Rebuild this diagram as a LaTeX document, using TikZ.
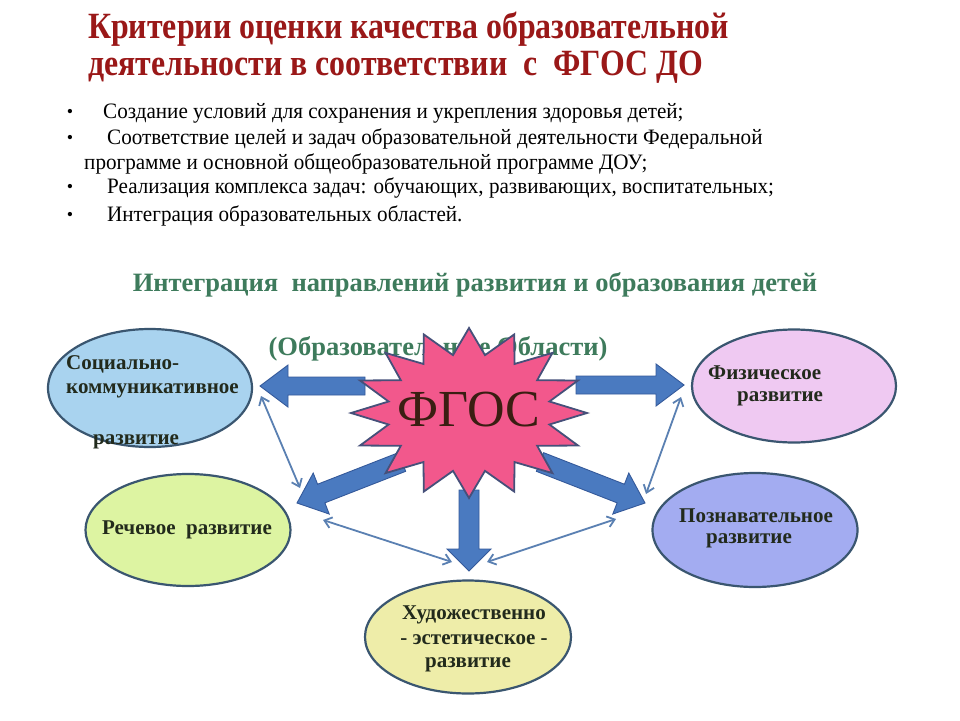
\documentclass[tikz,border=0pt]{standalone}
\usepackage{graphicx}
\usepackage{fontspec}
\setmainfont{Liberation Serif}
\usetikzlibrary{arrows.meta,calc,shapes.geometric}
\definecolor{titlered}{HTML}{9A1818}
\definecolor{subgreen}{HTML}{3E7B5C}
\definecolor{arrowblue}{HTML}{4A7AC0}
\definecolor{arrowedge}{HTML}{34599A}
\definecolor{thinblue}{HTML}{5A80B2}
\definecolor{starpink}{HTML}{F2588C}
\definecolor{staredge}{HTML}{46507A}
\definecolor{elledge}{HTML}{3A5670}
\definecolor{soccol}{HTML}{A9D3EF}
\definecolor{fizcol}{HTML}{EFC9F2}
\definecolor{reccol}{HTML}{DDF4A2}
\definecolor{pozcol}{HTML}{A3ACF1}
\definecolor{hudcol}{HTML}{EEEDA9}
\definecolor{ltext}{HTML}{222A1C}
\definecolor{fgoscol}{HTML}{3A1E12}
\newcommand{\blockarr}[5]{% start, tip, shaft half, head half, head length
  \path coordinate (ha) at ($(#2)!#5!(#1)$);
  \draw[blockarrow] ($(#1)!#3!90:(#2)$) -- ($(ha)!#3!-90:(#1)$) -- ($(ha)!#4!-90:(#1)$) -- (#2)
    -- ($(ha)!#4!90:(#1)$) -- ($(ha)!#3!90:(#1)$) -- ($(#1)!#3!-90:(#2)$) -- cycle;}
\newcommand{\nar}[2]{\scalebox{#1}[1]{#2}}
\begin{document}
\begin{tikzpicture}[x=1pt,y=-1pt,
  title/.style={font=\fontsize{37}{40}\selectfont\bfseries, text=titlered, inner sep=0, anchor=west},
  bul/.style={font=\fontsize{22}{24}\selectfont, text=black, inner sep=0, anchor=west},
  dot/.style={font=\fontsize{18}{20}\selectfont, inner sep=0},
  sub/.style={font=\fontsize{26.5}{30}\selectfont\bfseries, text=subgreen, inner sep=0},
  ell/.style={draw=elledge, line width=2.2pt, ellipse, inner sep=0},
  lab/.style={font=\fontsize{21}{24}\selectfont\bfseries, text=ltext, inner sep=0},
  blockarrow/.style={fill=arrowblue, draw=arrowedge, line width=0.9pt, line join=miter},
  thin/.style={draw=thinblue, line width=1.8pt, {Straight Barb[length=7pt,width=11pt]}-{Straight Barb[length=7pt,width=11pt]}}
]
\useasboundingbox[fill=white] (0,0) rectangle (960,720);
% title
\node[title] (t1) at (88,29) {\nar{0.86}{Критерии оценки качества образовательной}};
\node[title] (t2) at (88,67) {\nar{0.86}{деятельности в соответствии\ \ с\ \ ФГОС ДО}};
% bullets
\node[dot] (d1) at (70,113) {•};
\node[bul] (b1) at (103,113) {\nar{0.96}{Создание условий для сохранения и укрепления здоровья детей;}};
\node[dot] (d2) at (70,139) {•};
\node[bul] (b2) at (107,139) {\nar{0.96}{Соответствие целей и задач образовательной деятельности Федеральной}};
\node[bul] (b3) at (84,164) {\nar{0.96}{программе и основной общеобразовательной программе ДОУ;}};
\node[dot] (d3) at (70,188) {•};
\node[bul] (b4) at (107,188) {\nar{0.96}{Реализация комплекса задач: обучающих, развивающих, воспитательных;}};
\node[dot] (d4) at (70,216) {•};
\node[bul] (b5) at (107,216) {\nar{0.96}{Интеграция образовательных областей.}};
% subtitle
\node[sub] (s1) at (475,285) {Интеграция\ \ направлений развития и образования детей};
\node[sub] (s2) at (438,349) {(Образовательные Области)};
% ellipses
\node[ell, fill=soccol, minimum width=204pt, minimum height=118pt] (soc) at (150,388) {};
\node[ell, fill=fizcol, minimum width=204pt, minimum height=113pt] (fiz) at (794,386) {};
\node[ell, fill=reccol, minimum width=205pt, minimum height=112pt] (rec) at (188,530) {};
\node[ell, fill=pozcol, minimum width=205pt, minimum height=114pt] (poz) at (755,530) {};
\node[ell, fill=hudcol, minimum width=206pt, minimum height=113pt] (hud) at (468,637) {};
% ellipse labels
\node[lab, anchor=west] (soc1) at (66,364) {Социально-};
\node[lab, anchor=west] (soc2) at (66,391) {коммуникативное};
\node[lab, anchor=west] (soc3) at (93,442) {развитие};
\node[lab, anchor=west] (fiz1) at (708,373) {Физическое};
\node[lab, anchor=west] (fiz2) at (737,399) {развитие};
\node[lab] (rec1) at (187,530) {Речевое\ \ развитие};
\node[lab] (poz1) at (756,516) {Познавательное};
\node[lab] (poz2) at (749,541) {развитие};
\node[lab] (hud1) at (474,615) {Художественно};
\node[lab] (hud2) at (474,640) {- эстетическое -};
\node[lab] (hud3) at (468,665) {развитие};
% block arrows
\coordinate (aLs) at (365,386); \coordinate (aLe) at (260,386);
\coordinate (aRs) at (576,385); \coordinate (aRe) at (684,385);
\coordinate (aDs) at (469,490); \coordinate (aDe) at (469,571);
\coordinate (aLLs) at (402,462); \coordinate (aLLe) at (297,503);
\coordinate (aLRs) at (540,462); \coordinate (aLRe) at (645,503);
\blockarr{aLs}{aLe}{9pt}{21pt}{28pt}
\blockarr{aRs}{aRe}{9pt}{21pt}{28pt}
\blockarr{aDs}{aDe}{10pt}{22pt}{22pt}
\blockarr{aLLs}{aLLe}{10pt}{22pt}{26pt}
\blockarr{aLRs}{aLRe}{10pt}{22pt}{26pt}
% thin double arrows
\coordinate (c1a) at (261,396); \coordinate (c1b) at (300,488);
\coordinate (c2a) at (681,397); \coordinate (c2b) at (646,494);
\coordinate (c3a) at (323,520); \coordinate (c3b) at (452,562);
\coordinate (c4a) at (616,519); \coordinate (c4b) at (487,562);
\draw[thin] (c1a) -- (c1b);
\draw[thin] (c2a) -- (c2b);
\draw[thin] (c3a) -- (c3b);
\draw[thin] (c4a) -- (c4b);
% star
\draw[fill=starpink, draw=staredge, line width=1.8pt, line join=miter]
  plot[samples at={0,...,31}, variable=\t] ({469+(118-36*mod(\t,2))*cos(\t*11.25)}, {413+(85-26*mod(\t,2))*sin(\t*11.25)}) -- cycle;
\node[font=\fontsize{52}{56}\selectfont, text=fgoscol, inner sep=0] (fgos) at (469,410) {ФГОС};
\end{tikzpicture}
\end{document}
